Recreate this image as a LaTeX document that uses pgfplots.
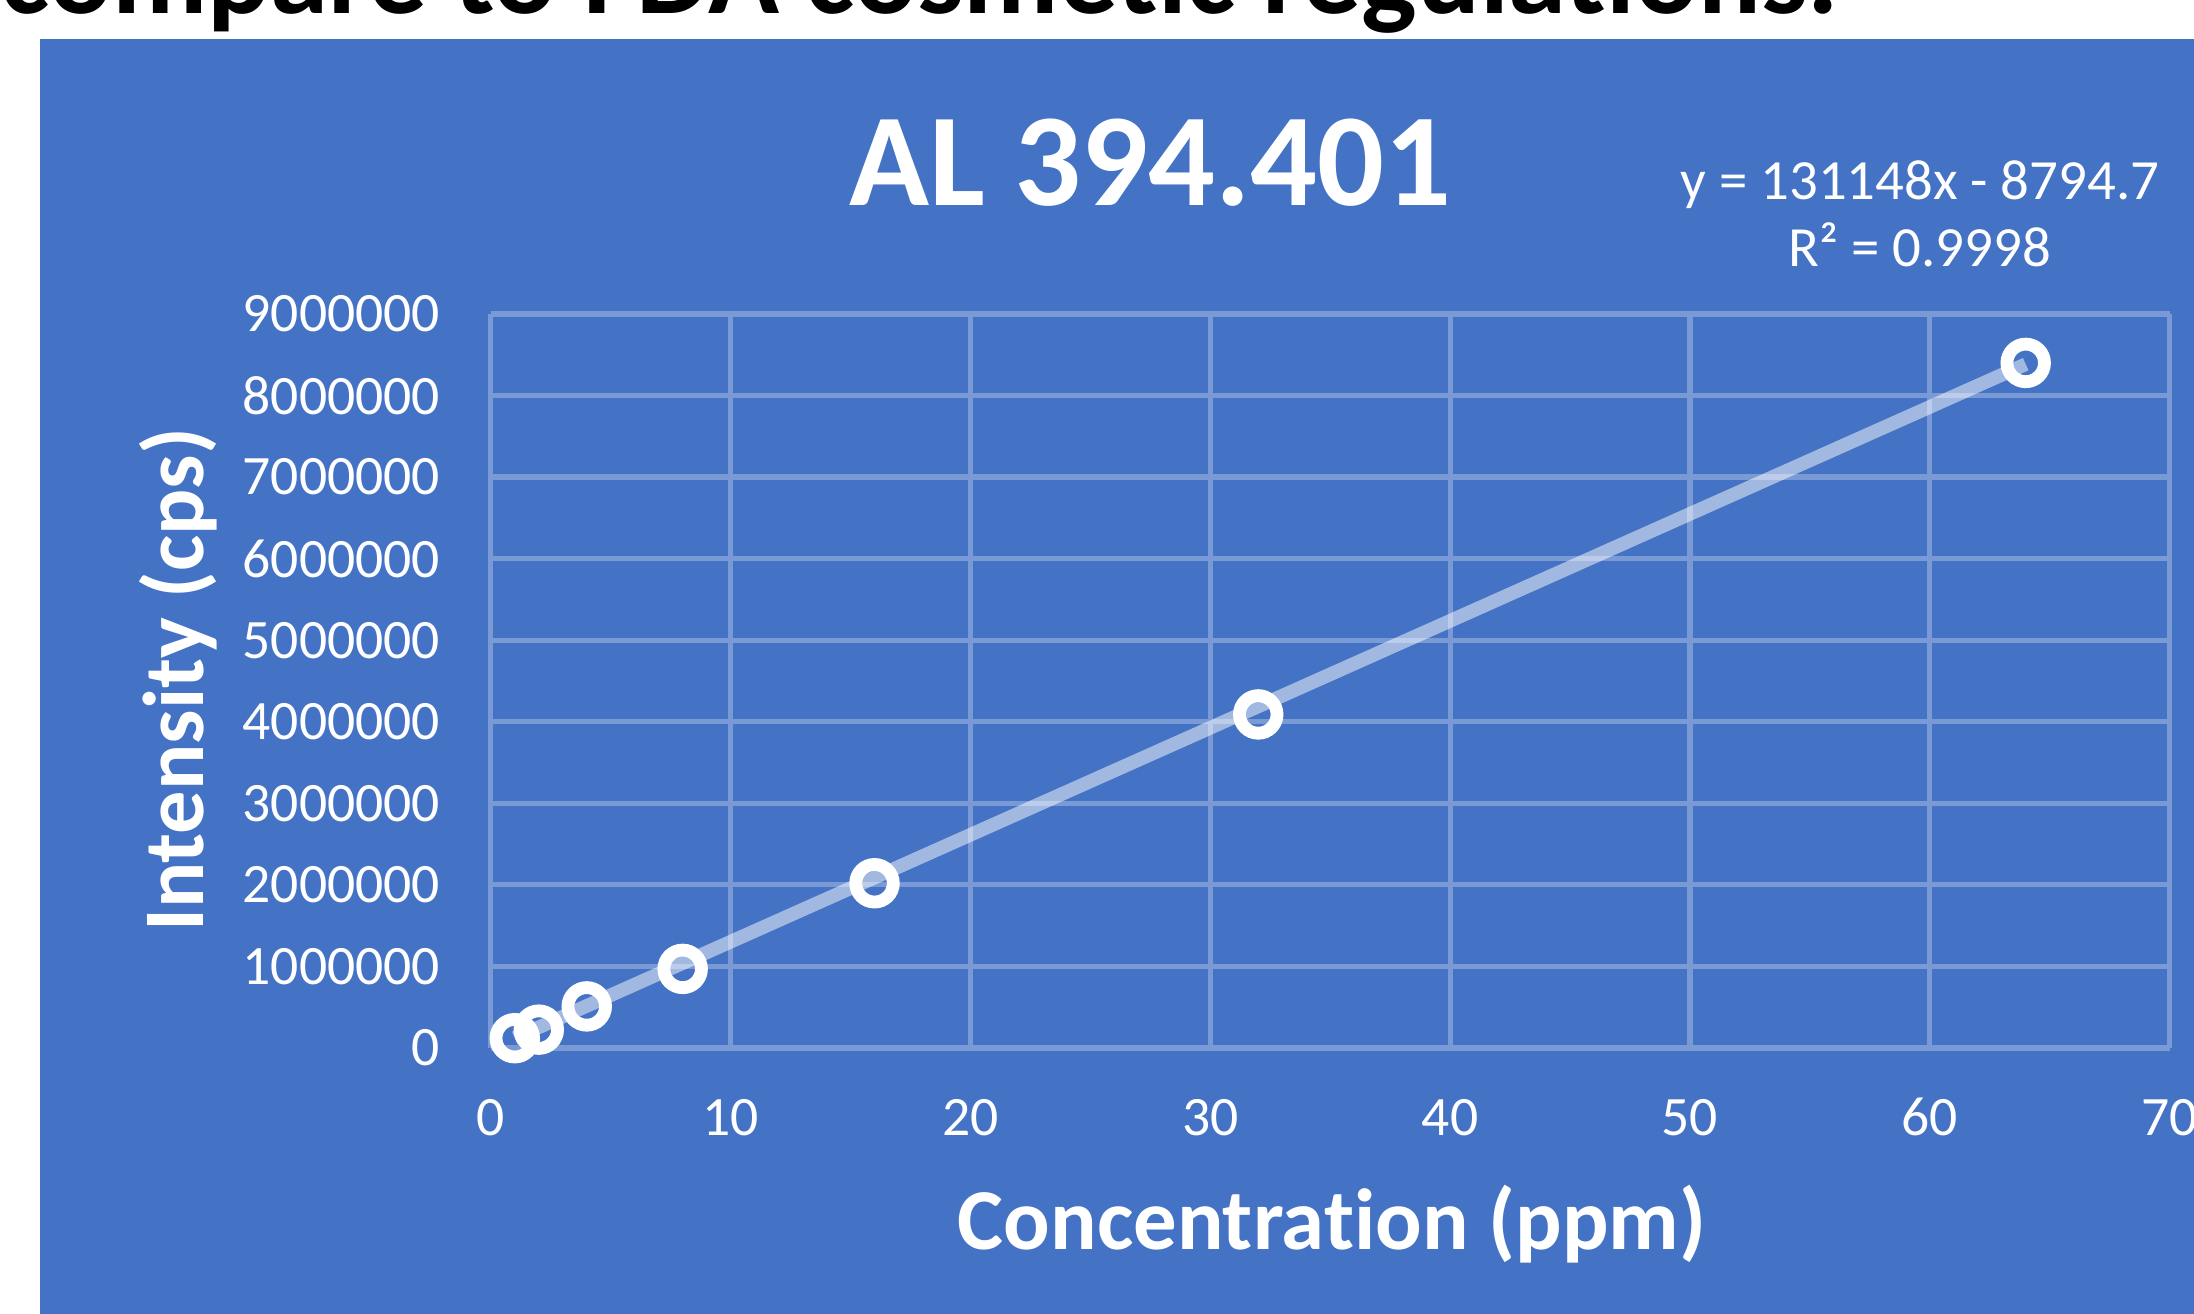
\documentclass[border=0pt]{standalone}
\usepackage{fontspec}
\setmainfont{Carlito}[Ligatures=NoCommon]
\usepackage{pgfplots}
\pgfplotsset{compat=1.18}
\definecolor{bgblue}{HTML}{4472C4}
\definecolor{gridc}{HTML}{7A9AD6}
\begin{document}
\begin{tikzpicture}[x=1pt,y=1pt]
\useasboundingbox (0,0) rectangle (548.5,328.5);
\begin{scope}
\clip (0,0) rectangle (548.5,328.5);
\fill[white] (0,0) rectangle (548.5,328.5);
\fill[bgblue] (10,0) rectangle (548.5,318.75);
\node[anchor=base west, inner sep=0pt, text=black, font=\fontsize{29.3}{29}\bfseries\selectfont] at (0,325.2) {compare to FDA cosmetic regulations.};
\end{scope}
\begin{axis}[
  at={(122.7pt,66.5pt)}, anchor=south west,
  width=419.7pt, height=183.5pt, scale only axis,
  xmin=0, xmax=70, ymin=0, ymax=9000000,
  xtick={0,10,20,30,40,50,60,70},
  ytick={0,1000000,2000000,3000000,4000000,5000000,6000000,7000000,8000000,9000000},
  grid=major,
  grid style={draw=gridc, line width=1.3pt},
  axis line style={draw=none},
  major tick length=0pt,
  tick style={draw=none},
  scaled y ticks=false,
  /pgf/number format/assume math mode=true,
  ticklabel style={font=\fontsize{13.9}{14}\selectfont, text=white, inner sep=0pt},
  yticklabel style={/pgf/number format/fixed, /pgf/number format/precision=0, /pgf/number format/1000 sep={}, anchor=east, xshift=-12.5pt},
  xticklabel style={anchor=base, yshift=-22pt},
  clip=false,
]
\addplot[draw=white, draw opacity=0.5, line width=3.4pt, no marks] coordinates {(1,122353.3) (64,8384677.3)};
\addplot[only marks, draw=white, line width=3.2pt, mark=o, mark size=4.7pt, mark options={draw=white, line width=3.2pt}] coordinates {
(1,120000) (2,225000) (4,510000) (8,970000) (16,2020000) (32,4090000) (64,8400000)};
\end{axis}
\node[anchor=base, inner sep=0pt, text=white, font=\fontsize{33}{33}\bfseries\selectfont] at (287.6,277) {AL 394.401};
\node[anchor=base, inner sep=0pt, text=white, font=\fontsize{14.2}{14}\selectfont] at (480,278.5) {y = 131148x - 8794.7};
\node[anchor=base, inner sep=0pt, text=white, font=\fontsize{14.2}{14}\selectfont] at (480,261.8) {R² = 0.9998};
\node[anchor=base, inner sep=0pt, text=white, font=\fontsize{21.7}{22}\bfseries\selectfont] at (333,16) {Concentration (ppm)};
\node[anchor=base, rotate=90, inner sep=0pt, text=white, font=\fontsize{21.6}{22}\bfseries\selectfont] at (50.8,158.5) {Intensity (cps)};
\end{tikzpicture}
\end{document}
